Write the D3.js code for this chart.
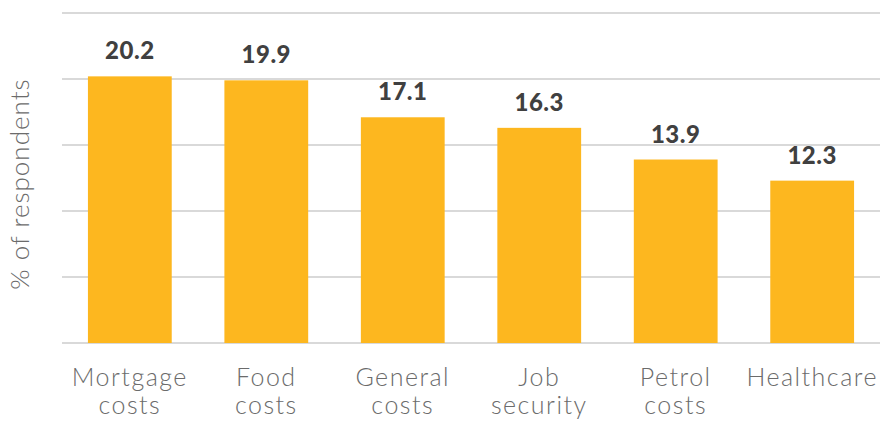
<!DOCTYPE html>
<html>
<head>
<meta charset="utf-8">
<script src="https://cdn.jsdelivr.net/npm/d3@7"></script>
<style>
  html, body { margin: 0; padding: 0; background: #fff; }
  svg text { font-family: "Lato", "Open Sans", sans-serif; }
</style>
</head>
<body>
<div id="js-chart"></div>
<script>
// 数据
var categories = [["Mortgage", "costs"], ["Food", "costs"], ["General", "costs"], ["Job", "security"], ["Petrol", "costs"], ["Healthcare"]];
var values = [20.2, 19.9, 17.1, 16.3, 13.9, 12.3];
var yTicks = [0, 5, 10, 15, 20, 25];
var yLabel = "% of respondents";

var width = 880, height = 421;
var margin = {top: 13, right: 0, bottom: 78, left: 62};

var svg = d3.select("#js-chart").append("svg")
    .attr("width", width)
    .attr("height", height);

var x = d3.scaleBand()
    .domain(d3.range(values.length))
    .range([margin.left, width - margin.right])
    .paddingInner(0.386)
    .paddingOuter(0.19);

var y = d3.scaleLinear()
    .domain([0, 25])
    .range([height - margin.bottom, margin.top]);

// 网格线
svg.append("g").selectAll("line")
    .data(yTicks)
    .enter().append("line")
    .attr("x1", margin.left)
    .attr("x2", width - margin.right)
    .attr("y1", function (d) { return y(d); })
    .attr("y2", function (d) { return y(d); })
    .attr("stroke", "#d9d9d9")
    .attr("stroke-width", 2);

// 柱子
svg.append("g").selectAll("rect")
    .data(values)
    .enter().append("rect")
    .attr("x", function (d, i) { return x(i); })
    .attr("y", function (d) { return y(d); })
    .attr("width", x.bandwidth())
    .attr("height", function (d) { return y(0) - y(d); })
    .attr("fill", "#fdb71f");

// 数值
svg.append("g").selectAll("text")
    .data(values)
    .enter().append("text")
    .attr("x", function (d, i) { return x(i) + x.bandwidth() / 2; })
    .attr("y", function (d) { return y(d) - 17; })
    .attr("text-anchor", "middle")
    .attr("font-size", 24)
    .attr("font-weight", 900)
    .attr("letter-spacing", 0.5)
    .attr("fill", "#404040")
    .text(function (d) { return d.toFixed(1); });

// 类别标签
var cat = svg.append("g").selectAll("text")
    .data(categories)
    .enter().append("text")
    .attr("x", function (d, i) { return x(i) + x.bandwidth() / 2; })
    .attr("y", 386)
    .attr("text-anchor", "middle")
    .attr("font-size", 25)
    .attr("font-weight", 300)
    .attr("letter-spacing", 1.5)
    .attr("fill", "#6b6b6b");

cat.selectAll("tspan")
    .data(function (d) { return d; })
    .enter().append("tspan")
    .attr("x", function () { return d3.select(this.parentNode).attr("x"); })
    .attr("dy", function (d, i) { return i === 0 ? 0 : 28; })
    .text(function (d) { return d; });

// y 轴标题
svg.append("text")
    .attr("transform", "translate(29," + ((margin.top + y(0)) / 2 + 6) + ") rotate(-90)")
    .attr("text-anchor", "middle")
    .attr("font-size", 26)
    .attr("font-weight", 300)
    .attr("letter-spacing", 1)
    .attr("fill", "#6b6b6b")
    .text(yLabel);
</script>
</body>
</html>
